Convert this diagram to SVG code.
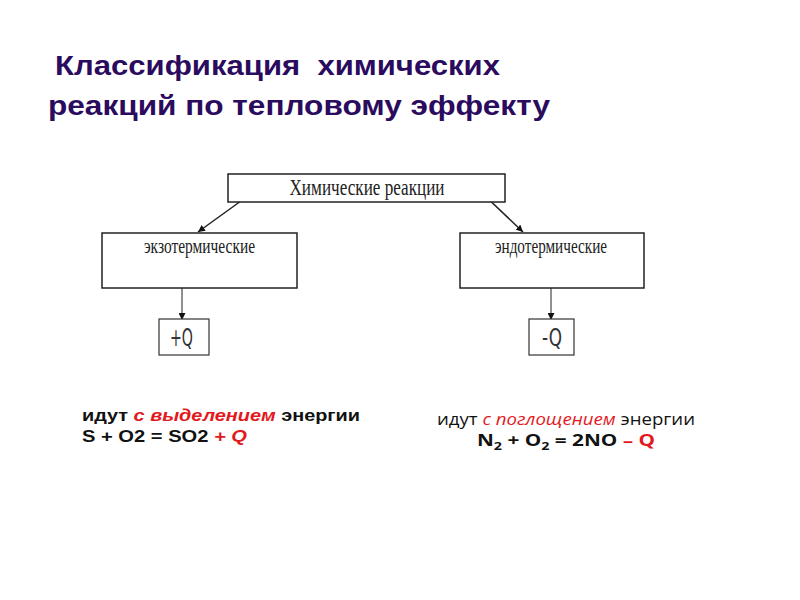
<svg xmlns="http://www.w3.org/2000/svg" width="800" height="600" viewBox="0 0 800 600">
<style>
.box{fill:#fff;stroke:#222;stroke-width:1.5}
.small{fill:#fff;stroke:#333;stroke-width:1.2}
.ser{font-family:"Liberation Serif","DejaVu Serif",serif;fill:#222}
.q{font-family:"DejaVu Sans","Liberation Sans",sans-serif;fill:#333}
.title{font-family:"Liberation Sans",Arial,sans-serif;font-weight:bold;font-size:28px;fill:#2B0B5E}
.txt{font-family:"Liberation Sans",Arial,sans-serif;font-weight:bold;font-size:16px;fill:#111}
.txt2{font-family:"Open Sans","Noto Sans",sans-serif;font-size:16px;fill:#111}
.red{fill:#E3191E}
.con{stroke:#222;fill:none}
</style>
<defs>
<marker id="ah" viewBox="0 0 10 10" refX="10" refY="5" markerWidth="7" markerHeight="7" markerUnits="userSpaceOnUse" orient="auto">
<path d="M0,0 L10,5 L0,10 z" fill="#111"/>
</marker>
</defs>
<rect width="800" height="600" fill="#fff"/>
<g id="title">
<text class="title" x="55" y="75" textLength="445" lengthAdjust="spacingAndGlyphs" xml:space="preserve">Классификация  химических</text>
<text class="title" x="48" y="115" textLength="502" lengthAdjust="spacingAndGlyphs">реакций по тепловому эффекту</text>
</g>
<g id="connectors">
<line class="con" x1="252" y1="193" x2="198" y2="232" stroke-width="1.5" marker-end="url(#ah)"/>
<line class="con" x1="482" y1="193" x2="523" y2="232" stroke-width="1.5" marker-end="url(#ah)"/>
<line class="con" x1="182" y1="268" x2="182" y2="320" stroke-width="1" marker-end="url(#ah)"/>
<line class="con" x1="551" y1="268" x2="551" y2="320" stroke-width="1" marker-end="url(#ah)"/>
</g>
<g id="node-root">
<rect class="box" x="228" y="174" width="277" height="28"/>
<text class="ser" x="367" y="195" font-size="23" text-anchor="middle" textLength="155" lengthAdjust="spacingAndGlyphs">Химические реакции</text>
</g>
<g id="node-exo">
<rect class="box" x="102" y="233" width="195" height="55"/>
<text class="ser" x="199.5" y="253" font-size="20" text-anchor="middle" textLength="111" lengthAdjust="spacingAndGlyphs">экзотермические</text>
</g>
<g id="node-endo">
<rect class="box" x="460" y="233" width="184" height="55"/>
<text class="ser" x="551" y="253" font-size="20" text-anchor="middle" textLength="112" lengthAdjust="spacingAndGlyphs">эндотермические</text>
</g>
<g id="node-plusq">
<rect class="small" x="159" y="319" width="50" height="36"/>
<text class="q" x="181.5" y="346" font-size="25" text-anchor="middle" textLength="23" lengthAdjust="spacingAndGlyphs">+Q</text>
</g>
<g id="node-minusq">
<rect class="small" x="529" y="319" width="45" height="36"/>
<text class="q" x="552" y="346" font-size="25" text-anchor="middle" textLength="20" lengthAdjust="spacingAndGlyphs">-Q</text>
</g>
<g id="exo-text">
<text class="txt" x="82" y="421" textLength="278" lengthAdjust="spacingAndGlyphs">идут <tspan class="red" font-style="italic">с выделением</tspan> энергии</text>
<text class="txt" x="82" y="442" font-size="17" textLength="165" lengthAdjust="spacingAndGlyphs">S + O2 = SO2 <tspan class="red" font-style="italic">+ Q</tspan></text>
</g>
<g id="endo-text">
<text class="txt2" x="566" y="425" text-anchor="middle" textLength="258" lengthAdjust="spacingAndGlyphs">идут <tspan class="red" font-style="italic">с поглощением</tspan> энергии</text>
<text class="txt2" x="477" y="446" font-weight="bold" font-size="19" textLength="178" lengthAdjust="spacingAndGlyphs">N<tspan font-size="11" dy="4">2</tspan><tspan dy="-4"> + O</tspan><tspan font-size="11" dy="4">2</tspan><tspan dy="-4"> = 2NO </tspan><tspan class="red">– Q</tspan></text>
</g>
</svg>
